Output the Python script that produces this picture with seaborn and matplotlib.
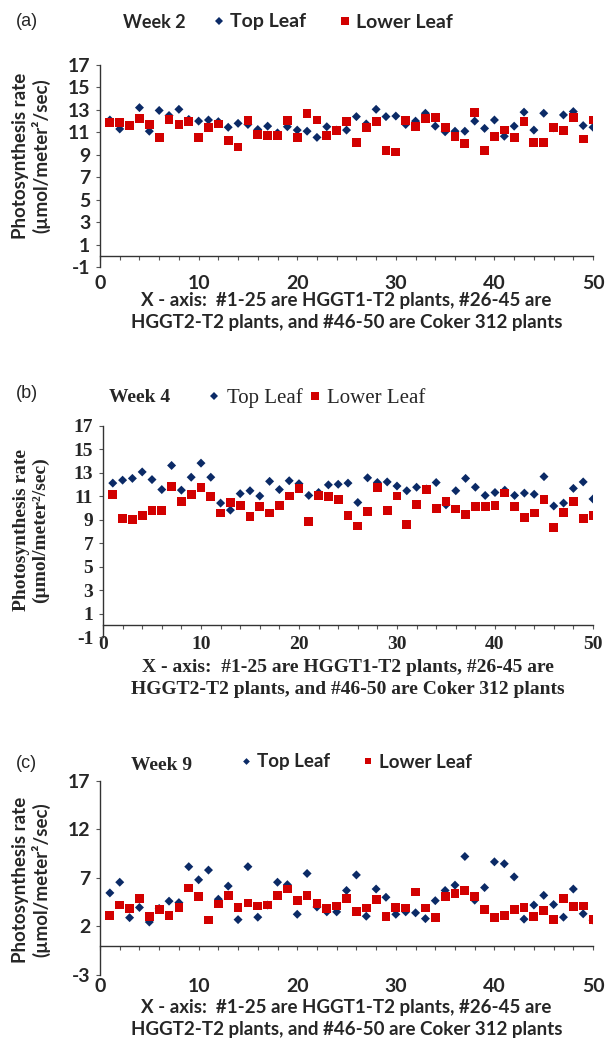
import numpy as np
import pandas as pd
import matplotlib
matplotlib.use("Agg")
import matplotlib.pyplot as plt
import seaborn as sns

# plant number on the x axis
plants = list(range(1, 51))

# Week 2 photosynthesis rate (umol/m2/sec)
wk2_top = [12.1, 11.3, 11.6, 13.2, 11.1, 12.95, 12.5, 13.05, 12.15, 12.0,
           12.1, 11.95, 11.45, 11.8, 11.7, 11.25, 11.55, 10.95, 11.5, 11.2,
           11.1, 10.55, 11.5, 11.2, 11.2, 12.4, 11.75, 13.05, 12.4, 12.45,
           11.7, 12.0, 12.7, 11.55, 11.05, 11.1, 11.1, 12.0, 11.35, 12.1,
           10.65, 11.55, 12.8, 11.2, 12.7, 11.4, 12.55, 12.85, 11.6, 11.45]
wk2_low = [11.85, 11.85, 11.6, 12.25, 11.7, 10.55, 12.15, 11.7, 12.0, 10.55,
           11.45, 11.75, 10.25, 9.7, 12.05, 10.8, 10.75, 10.75, 12.05, 10.55,
           12.7, 12.1, 10.75, 11.15, 12.0, 10.1, 11.45, 12.0, 9.35, 9.25,
           12.05, 11.5, 12.25, 12.35, 11.45, 10.65, 10.0, 12.75, 9.35, 10.65,
           11.2, 10.55, 12.0, 10.1, 10.1, 11.4, 11.15, 12.3, 10.4, 12.1]

# Week 4
wk4_top = [12.1, 12.35, 12.5, 13.05, 12.4, 11.55, 13.6, 11.5, 12.6, 13.8,
           12.6, 10.4, 9.8, 11.2, 11.45, 11.0, 12.25, 11.55, 12.3, 12.05,
           11.05, 11.3, 11.95, 12.0, 12.1, 10.45, 12.55, 12.15, 12.2, 11.85,
           11.45, 11.75, 11.6, 12.15, 10.25, 11.45, 12.5, 11.75, 11.05, 11.3,
           11.5, 11.05, 11.25, 11.15, 12.65, 10.15, 10.4, 11.65, 12.2, 10.75]
wk4_low = [11.15, 9.1, 9.0, 9.35, 9.8, 9.8, 11.8, 10.55, 11.15, 11.7,
           10.95, 9.55, 10.45, 10.2, 9.25, 10.1, 9.55, 10.2, 11.0, 11.65,
           8.85, 11.05, 10.95, 10.7, 9.35, 8.45, 9.7, 11.75, 9.8, 11.0,
           8.6, 10.25, 11.55, 9.95, 10.55, 9.9, 9.45, 10.1, 10.1, 10.2,
           11.25, 10.1, 9.2, 9.55, 10.7, 8.35, 9.6, 10.55, 9.1, 9.35]

# Week 9
wk9_top = [5.45, 6.55, 2.9, 3.95, 2.45, 3.85, 4.6, 4.45, 8.15, 6.8,
           7.8, 4.8, 6.15, 2.7, 8.15, 2.95, 4.2, 6.55, 6.3, 3.25,
           7.45, 4.0, 3.5, 3.5, 5.7, 7.3, 3.05, 5.85, 5.0, 3.25,
           3.5, 3.4, 2.8, 4.65, 5.7, 6.25, 9.2, 4.7, 6.0, 8.65,
           8.45, 7.1, 2.75, 4.2, 5.2, 4.25, 2.95, 5.85, 3.3, 2.65]
wk9_low = [3.1, 4.2, 3.85, 4.9, 3.05, 3.75, 3.15, 3.95, 5.95, 5.1,
           2.65, 4.3, 5.2, 3.95, 4.4, 4.1, 4.2, 5.2, 5.85, 4.7,
           5.2, 4.35, 3.85, 4.1, 4.85, 3.55, 3.9, 4.8, 3.05, 3.95,
           3.9, 5.55, 3.9, 2.95, 5.1, 5.35, 5.7, 5.1, 3.75, 2.95,
           3.1, 3.75, 3.95, 3.05, 3.6, 2.75, 4.9, 4.05, 4.1, 2.75]

x_ticks = [0, 10, 20, 30, 40, 50]
x_minor = [2, 4, 6, 8, 12, 14, 16, 18, 22, 24, 26, 28, 32, 34, 36, 38, 42, 44, 46, 48]
y_ticks_ab = [-1, 1, 3, 5, 7, 9, 11, 13, 15, 17]
y_ticks_c = [-3, 2, 7, 12, 17]

x_text = "X - axis:  #1-25 are HGGT1-T2 plants, #26-45 are\nHGGT2-T2 plants, and #46-50 are Coker 312 plants"
y_text = "Photosynthesis rate\n(\u00b5mol/meter\u00b2/sec)"

BLUE = "#0b2a66"
RED = "#d20000"
SANS = "Lato"
SERIF = "Liberation Serif"

sns.set_style("white")
fig = plt.figure(figsize=(6.08, 10.45), dpi=100)


def panel(rect, top, low, yticks, tick_font, tick_size, xpad, ylab_xy, xlab_y, lab_size):
    df = pd.DataFrame({
        "Plant": plants * 2,
        "Rate": top + low,
        "Leaf": ["Top Leaf"] * len(top) + ["Lower Leaf"] * len(low),
    })
    ax = fig.add_axes(rect)
    sns.scatterplot(data=df, x="Plant", y="Rate", hue="Leaf", style="Leaf", size="Leaf",
                    markers={"Top Leaf": "D", "Lower Leaf": "s"},
                    palette={"Top Leaf": BLUE, "Lower Leaf": RED},
                    sizes={"Top Leaf": 21, "Lower Leaf": 40},
                    linewidth=0, ax=ax)
    ax.set_xlim(0, 50)
    ax.set_ylim(yticks[0], 17)
    ax.spines["top"].set_visible(False)
    ax.spines["right"].set_visible(False)
    ax.spines["bottom"].set_position(("data", 0))
    for s in ("left", "bottom"):
        ax.spines[s].set_color("#333333")
        ax.spines[s].set_linewidth(1.0)
    ax.set_xticks(x_ticks)
    ax.set_xticks(x_minor, minor=True)
    ax.set_xticklabels([str(t) for t in x_ticks], family=tick_font, fontweight="bold", fontsize=tick_size)
    ax.set_yticks(yticks)
    ax.set_yticklabels([str(t) for t in yticks], family=tick_font, fontweight="bold", fontsize=tick_size)
    ax.tick_params(axis="x", which="both", direction="out", length=3, width=0.8,
                   color="#555555", bottom=True, pad=xpad)
    ax.tick_params(axis="y", direction="out", length=3, width=0.8, color="#555555", left=True, pad=4)
    ax.set_ylabel(y_text, family=tick_font, fontweight="bold", fontsize=lab_size, linespacing=1.15)
    ax.yaxis.set_label_coords(*ylab_xy)
    ax.yaxis.label.set_va("center")
    ax.set_xlabel(x_text, family=tick_font, fontweight="bold", fontsize=lab_size, linespacing=1.35)
    ax.xaxis.set_label_coords(0.5, xlab_y)
    ax.xaxis.label.set_va("center")
    return ax


ax_a = panel([0.1645, 0.7445, 0.8109, 0.1933], wk2_top, wk2_low, y_ticks_ab,
             SANS, 14, 11, (-0.14, 0.55), -0.222, 13.5)
ax_b = panel([0.1694, 0.3904, 0.8059, 0.2024], wk4_top, wk4_low, y_ticks_ab,
             SERIF, 14, 5, (-0.147, 0.506), -0.196, 14)
ax_c = panel([0.1645, 0.0670, 0.8109, 0.1859], wk9_top, wk9_low, y_ticks_c,
             SANS, 14, 20.5, (-0.14, 0.49), -0.222, 13.5)

# legends across the top of each panel
sns.move_legend(ax_a, "center left", bbox_to_anchor=(213 / 608, 1 - 22 / 1045),
                bbox_transform=fig.transFigure, ncol=2, title="", frameon=False,
                borderpad=0, borderaxespad=0, handlelength=0.6, handletextpad=0.27,
                columnspacing=1.7, markerscale=0.9,
                prop={"family": SANS, "weight": "bold", "size": 14})
sns.move_legend(ax_b, "center left", bbox_to_anchor=(209 / 608, 1 - 398 / 1045),
                bbox_transform=fig.transFigure, ncol=2, title="", frameon=False,
                borderpad=0, borderaxespad=0, handlelength=0.5, handletextpad=0.36,
                columnspacing=0.33, markerscale=0.8,
                prop={"family": SERIF, "size": 15})
sns.move_legend(ax_c, "center left", bbox_to_anchor=(240 / 608, 1 - 762 / 1045),
                bbox_transform=fig.transFigure, ncol=2, title="", frameon=False,
                borderpad=0, borderaxespad=0, handlelength=0.6, handletextpad=0.29,
                columnspacing=1.73, markerscale=0.75,
                prop={"family": SANS, "weight": "bold", "size": 13.5})

# week titles and panel letters
fig.text(154 / 608, 1 - 22 / 1045, "Week 2", family=SANS, fontweight="bold", fontsize=13,
         ha="center", va="center")
fig.text(140 / 608, 1 - 397 / 1045, "Week 4", family=SERIF, fontweight="bold", fontsize=14,
         ha="center", va="center")
fig.text(162 / 608, 1 - 765 / 1045, "Week 9", family=SERIF, fontweight="bold", fontsize=14,
         ha="center", va="center")
for letter, yy in (("(a)", 22), ("(b)", 393), ("(c)", 763)):
    fig.text(16 / 608, 1 - yy / 1045, letter, family="Liberation Sans", fontsize=13,
             ha="left", va="center")

fig.savefig("out.png", dpi=100)
